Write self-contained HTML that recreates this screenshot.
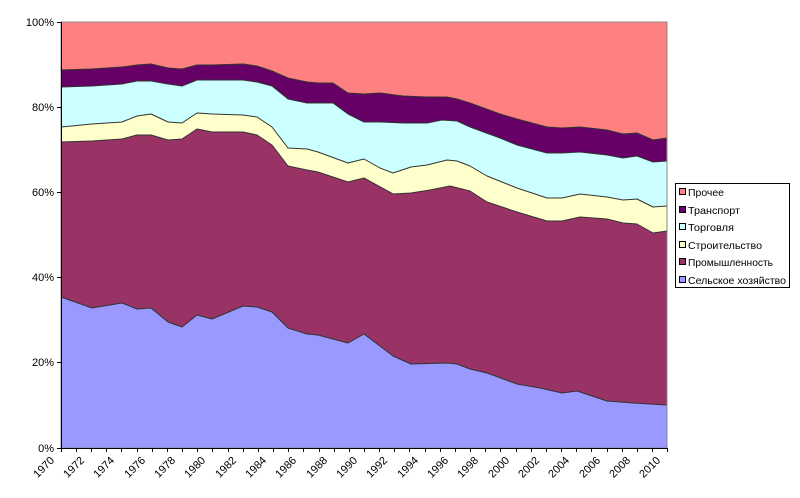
<!DOCTYPE html>
<html><head><meta charset="utf-8"><style>
html,body{margin:0;padding:0;background:#fff;}
svg{display:block;font-family:"Liberation Sans",Arial,sans-serif;}
</style></head><body>
<svg width="800" height="498" viewBox="0 0 800 498" xmlns="http://www.w3.org/2000/svg">
<rect x="61" y="22" width="606" height="426" fill="#FF8080"/>
<g stroke="#333" stroke-width="1" stroke-linejoin="round">
<polygon fill="#660066" points="61,70 92,69 122,67 137,65 151,64 168,68 182,69 197,65 212,65 243,64 257,66 272,71 288,78 307,82 318,83 333,83 348,93 364,94 380,93 403,96 427,97 447,97 457,99 470,103 500,114 517,119 547,127 562,128 580,127 607,130 623,134 637,133 653,140 667,138 667,448 61,448"/>
<polygon fill="#CCFFFF" points="61,87 92,86 122,84 137,81 151,81 168,84 182,86 197,80 212,80 243,80 257,82 272,86 288,99 307,103 318,103 333,103 348,114 364,122 380,122 403,123 427,123 442,120 457,121 470,127 500,138 517,145 547,153 562,153 580,152 607,155 623,158 637,156 653,162 667,161 667,448 61,448"/>
<polygon fill="#FFFFCC" points="61,127 92,124 122,122 137,116 151,114 168,122 182,123 197,113 212,114 243,115 257,117 272,127 288,148 307,149 318,152 348,163 364,159 380,168 393,173 411,167 427,165 447,160 457,161 470,166 487,176 517,188 547,198 562,198 580,194 607,197 623,200 637,199 653,207 667,206 667,448 61,448"/>
<polygon fill="#993366" points="61,142 92,141 122,139 137,135 151,135 168,140 182,139 197,129 212,132 243,132 257,135 272,145 288,166 307,170 318,172 348,182 364,178 393,194 411,193 430,190 450,186 470,191 487,202 517,212 547,221 562,221 580,217 607,219 623,223 637,224 653,233 667,231 667,448 61,448"/>
<polygon fill="#9999FF" points="61,297 92,308 122,303 137,309 151,308 168,322 182,327 197,315 212,319 243,306 257,307 272,312 288,328 307,334 318,335 348,343 364,334 393,356 411,364 447,363 457,364 470,369 487,373 517,384 540,388 562,393 577,391 607,401 633,403 667,405 667,448 61,448"/>
</g>
<rect x="61" y="22" width="606" height="426" fill="none" stroke="#888" stroke-width="1"/>
<g stroke="#000" stroke-width="1">
<line x1="61.5" y1="22" x2="61.5" y2="448"/>
<line x1="61" y1="448.5" x2="667" y2="448.5"/>
<line x1="57" y1="22.5" x2="61" y2="22.5"/>
<line x1="57" y1="107.5" x2="61" y2="107.5"/>
<line x1="57" y1="192.5" x2="61" y2="192.5"/>
<line x1="57" y1="277.5" x2="61" y2="277.5"/>
<line x1="57" y1="362.5" x2="61" y2="362.5"/>
<line x1="57" y1="448.5" x2="61" y2="448.5"/>
</g>
<g font-size="11" fill="#000" text-anchor="end">
<text x="54" y="26">100%</text>
<text x="54" y="111">80%</text>
<text x="54" y="196">60%</text>
<text x="54" y="281">40%</text>
<text x="54" y="366">20%</text>
<text x="54" y="452">0%</text>
</g>
<rect x="675.5" y="183.5" width="114" height="104" fill="#fff" stroke="#000"/>
<g stroke="#000" stroke-width="1">
<rect x="679.5" y="188.5" width="6" height="6" fill="#FF8080"/>
<rect x="679.5" y="206.5" width="6" height="6" fill="#660066"/>
<rect x="679.5" y="223.5" width="6" height="6" fill="#CCFFFF"/>
<rect x="679.5" y="241.5" width="6" height="6" fill="#FFFFCC"/>
<rect x="679.5" y="258.5" width="6" height="6" fill="#993366"/>
<rect x="679.5" y="276.5" width="6" height="6" fill="#9999FF"/>
</g>
<g font-size="10.5" fill="#000">
<text x="688" y="196" textLength="36" lengthAdjust="spacingAndGlyphs">Прочее</text>
<text x="688" y="214" textLength="52" lengthAdjust="spacingAndGlyphs">Транспорт</text>
<text x="688" y="231" textLength="46" lengthAdjust="spacingAndGlyphs">Торговля</text>
<text x="688" y="249" textLength="74" lengthAdjust="spacingAndGlyphs">Строительство</text>
<text x="688" y="266" textLength="85" lengthAdjust="spacingAndGlyphs">Промышленность</text>
<text x="688" y="284" textLength="98" lengthAdjust="spacingAndGlyphs">Сельское хозяйство</text>
</g>
<g stroke="#000">
<line x1="61.5" y1="448" x2="61.5" y2="452"/><line x1="76.5" y1="448" x2="76.5" y2="452"/><line x1="91.5" y1="448" x2="91.5" y2="452"/><line x1="106.5" y1="448" x2="106.5" y2="452"/><line x1="121.5" y1="448" x2="121.5" y2="452"/><line x1="137.5" y1="448" x2="137.5" y2="452"/><line x1="152.5" y1="448" x2="152.5" y2="452"/><line x1="167.5" y1="448" x2="167.5" y2="452"/><line x1="182.5" y1="448" x2="182.5" y2="452"/><line x1="197.5" y1="448" x2="197.5" y2="452"/><line x1="212.5" y1="448" x2="212.5" y2="452"/><line x1="228.5" y1="448" x2="228.5" y2="452"/><line x1="243.5" y1="448" x2="243.5" y2="452"/><line x1="258.5" y1="448" x2="258.5" y2="452"/><line x1="273.5" y1="448" x2="273.5" y2="452"/><line x1="288.5" y1="448" x2="288.5" y2="452"/><line x1="303.5" y1="448" x2="303.5" y2="452"/><line x1="319.5" y1="448" x2="319.5" y2="452"/><line x1="334.5" y1="448" x2="334.5" y2="452"/><line x1="349.5" y1="448" x2="349.5" y2="452"/><line x1="364.5" y1="448" x2="364.5" y2="452"/><line x1="379.5" y1="448" x2="379.5" y2="452"/><line x1="394.5" y1="448" x2="394.5" y2="452"/><line x1="409.5" y1="448" x2="409.5" y2="452"/><line x1="425.5" y1="448" x2="425.5" y2="452"/><line x1="440.5" y1="448" x2="440.5" y2="452"/><line x1="455.5" y1="448" x2="455.5" y2="452"/><line x1="470.5" y1="448" x2="470.5" y2="452"/><line x1="485.5" y1="448" x2="485.5" y2="452"/><line x1="500.5" y1="448" x2="500.5" y2="452"/><line x1="516.5" y1="448" x2="516.5" y2="452"/><line x1="531.5" y1="448" x2="531.5" y2="452"/><line x1="546.5" y1="448" x2="546.5" y2="452"/><line x1="561.5" y1="448" x2="561.5" y2="452"/><line x1="576.5" y1="448" x2="576.5" y2="452"/><line x1="591.5" y1="448" x2="591.5" y2="452"/><line x1="607.5" y1="448" x2="607.5" y2="452"/><line x1="622.5" y1="448" x2="622.5" y2="452"/><line x1="637.5" y1="448" x2="637.5" y2="452"/><line x1="652.5" y1="448" x2="652.5" y2="452"/><line x1="667.5" y1="448" x2="667.5" y2="452"/>
</g>
<g font-size="11" fill="#000" text-anchor="end">
<text transform="translate(55,461) rotate(-45)">1970</text>
<text transform="translate(85,461) rotate(-45)">1972</text>
<text transform="translate(115,461) rotate(-45)">1974</text>
<text transform="translate(146,461) rotate(-45)">1976</text>
<text transform="translate(176,461) rotate(-45)">1978</text>
<text transform="translate(206,461) rotate(-45)">1980</text>
<text transform="translate(237,461) rotate(-45)">1982</text>
<text transform="translate(267,461) rotate(-45)">1984</text>
<text transform="translate(297,461) rotate(-45)">1986</text>
<text transform="translate(328,461) rotate(-45)">1988</text>
<text transform="translate(358,461) rotate(-45)">1990</text>
<text transform="translate(388,461) rotate(-45)">1992</text>
<text transform="translate(419,461) rotate(-45)">1994</text>
<text transform="translate(449,461) rotate(-45)">1996</text>
<text transform="translate(479,461) rotate(-45)">1998</text>
<text transform="translate(510,461) rotate(-45)">2000</text>
<text transform="translate(540,461) rotate(-45)">2002</text>
<text transform="translate(570,461) rotate(-45)">2004</text>
<text transform="translate(601,461) rotate(-45)">2006</text>
<text transform="translate(631,461) rotate(-45)">2008</text>
<text transform="translate(661,461) rotate(-45)">2010</text>
</g>
</svg>
</body></html>
